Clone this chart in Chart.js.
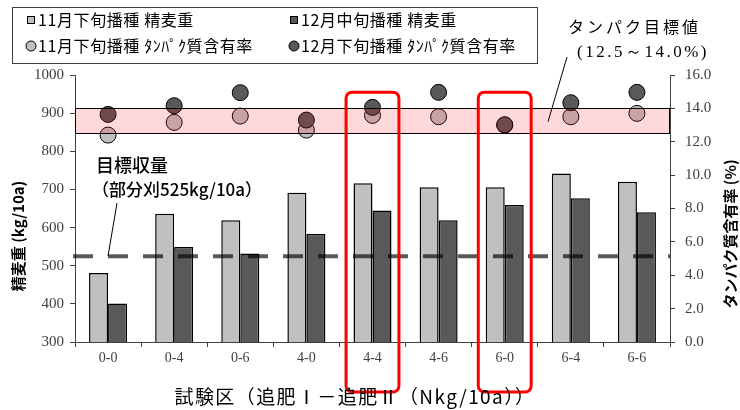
<!DOCTYPE html>
<html><head><meta charset="utf-8">
<script src="https://cdn.jsdelivr.net/npm/chart.js@4"></script>
<style>html,body{margin:0;padding:0;background:#fff;}canvas{display:block}</style>
</head><body>
<canvas id="c" width="740" height="410"></canvas>
<script>
// ---- data ----
const categories = ['0-0','0-4','0-6','4-0','4-4','4-6','6-0','6-4','6-6'];
const yieldNov = [481, 636, 619, 691, 716, 706, 706, 742, 720];
const yieldDec = [401, 549, 532, 583, 645, 619, 659, 677, 640];
const proteinNov = [12.4, 13.16, 13.54, 12.7, 13.58, 13.5, 13.0, 13.5, 13.7];
const proteinDec = [13.64, 14.16, 14.94, 13.3, 14.06, 14.96, 13.02, 14.34, 14.96];
const yieldAxis = [300, 1000, 100];
const proteinAxis = [0, 16, 2];
const targetYield = 525;
const proteinBand = [12.5, 14.0];
const highlighted = ['4-4', '6-0'];
const seriesLabels = ['11月下旬播種 精麦重', '12月中旬播種 精麦重', '11月下旬播種 ﾀﾝﾊﾟｸ質含有率', '12月下旬播種 ﾀﾝﾊﾟｸ質含有率'];
const leftTitle = '精麦重 (kg/10a)';
const rightTitle = 'タンパク質含有率 (%)';
const xTitle = '試験区（追肥Ⅰ－追肥Ⅱ（Nkg/10a））';
const bandNote = ['タンパク目標値', '(12.5～14.0%)'];
const yieldNote = ['目標収量', '（部分刈525kg/10a）'];

const LIGHT = '#c0c0c0', DARK = '#595959';
const JP = '"Noto Sans CJK JP", sans-serif';
const SERIF = '"Liberation Serif", serif';

const overlay = {
  id: 'overlay',
  afterDatasetsDraw(chart) {
    const {ctx, chartArea: a, scales} = chart;
    const y = scales.y, y1 = scales.y1, x = scales.x;
    ctx.save();
    // target yield dashed line
    const ty = y.getPixelForValue(targetYield);
    ctx.beginPath();
    ctx.setLineDash([20, 15]);
    ctx.lineWidth = 4;
    ctx.strokeStyle = 'rgba(0,0,0,0.65)';
    ctx.moveTo(a.left - 2, ty); ctx.lineTo(a.right, ty);
    ctx.stroke();
    ctx.setLineDash([]);
    // protein band
    const bt = y1.getPixelForValue(proteinBand[1]), bb = y1.getPixelForValue(proteinBand[0]);
    ctx.fillStyle = 'rgba(255,0,0,0.15)';
    ctx.fillRect(a.left, bt, a.right - a.left, bb - bt);
    ctx.lineWidth = 1; ctx.strokeStyle = '#000';
    ctx.strokeRect(a.left + 0.5, Math.round(bt) + 0.5, a.right - a.left - 1, Math.round(bb - bt));
    // highlight boxes
    const cw = (a.right - a.left) / categories.length;
    ctx.strokeStyle = '#ff0000'; ctx.lineWidth = 3;
    highlighted.forEach(h => {
      const cx = x.getPixelForValue(categories.indexOf(h));
      const top = y.getPixelForValue(955);
      ctx.beginPath();
      ctx.roundRect(cx - cw * 0.4, top, cw * 0.8, a.bottom + 50 - top, 6);
      ctx.stroke();
    });
    ctx.restore();
  },
  afterDraw(chart) {
    const {ctx, chartArea: a, scales} = chart;
    const y = scales.y, y1 = scales.y1;
    ctx.save();
    // legend
    ctx.strokeStyle = '#404040'; ctx.lineWidth = 1;
    ctx.strokeRect(12.5, 7.5, 525, 56);
    ctx.font = '16px ' + JP; ctx.fillStyle = '#000'; ctx.textBaseline = 'middle'; ctx.textAlign = 'left';
    ctx.letterSpacing = '0.6px';
    const pos = [[27, 20], [290, 20], [27, 46], [290, 46]];
    const cols = [LIGHT, DARK, LIGHT, DARK];
    seriesLabels.forEach((t, i) => {
      const [px, py] = pos[i];
      ctx.fillStyle = cols[i]; ctx.strokeStyle = '#000'; ctx.lineWidth = 1;
      if (i < 2) { ctx.fillRect(px, py - 4, 8, 8); ctx.strokeRect(px + 0.5, py - 3.5, 7, 7); }
      else { ctx.beginPath(); ctx.arc(px + 4, py, 5, 0, Math.PI * 2); ctx.fill(); ctx.stroke(); }
      ctx.fillStyle = '#000';
      ctx.fillText(t, px + 11, py);
    });
    // band annotation
    ctx.font = '16px ' + JP; ctx.letterSpacing = '3px';
    ctx.fillText(bandNote[0], 568, 27);
    ctx.font = '17px ' + SERIF; ctx.letterSpacing = '2.5px';
    ctx.fillText(bandNote[1], 577, 53);
    ctx.letterSpacing = '0px';
    ctx.beginPath(); ctx.lineWidth = 1; ctx.strokeStyle = '#000';
    ctx.moveTo(567, 57); ctx.lineTo(548, y1.getPixelForValue(13.2)); ctx.stroke();
    // yield annotation
    ctx.font = '500 18px ' + JP;
    ctx.fillText(yieldNote[0], 96, 165);
    ctx.font = '500 17px ' + JP;
    ctx.fillText(yieldNote[1], 92, 190);
    ctx.beginPath();
    ctx.moveTo(117, 203); ctx.lineTo(108, y.getPixelForValue(targetYield)); ctx.stroke();
    // axis titles
    ctx.font = 'bold 15px ' + JP; ctx.textAlign = 'center';
    ctx.save(); ctx.translate(18, 236); ctx.rotate(-Math.PI / 2); ctx.fillText(leftTitle, 0, 0); ctx.restore();
    ctx.save(); ctx.translate(730, 234); ctx.rotate(-Math.PI / 2); ctx.fillText(rightTitle, 0, 0); ctx.restore();
    ctx.font = '19px ' + JP; ctx.letterSpacing = '1.4px'; ctx.textAlign = 'left';
    const w = ctx.measureText(xTitle).width;
    ctx.fillText(xTitle, 355 - w / 2, 397);
    ctx.restore();
  }
};

const tickFont = {family: SERIF, size: 15};
new Chart(document.getElementById('c'), {
  type: 'bar',
  data: {
    labels: categories,
    datasets: [
      {type: 'line', label: seriesLabels[3], data: proteinDec, yAxisID: 'y1', showLine: false, order: 0,
       pointRadius: 8, pointHoverRadius: 8, pointBackgroundColor: DARK, pointBorderColor: '#000', pointBorderWidth: 1},
      {type: 'line', label: seriesLabels[2], data: proteinNov, yAxisID: 'y1', showLine: false, order: 1,
       pointRadius: 8, pointHoverRadius: 8, pointBackgroundColor: LIGHT, pointBorderColor: '#000', pointBorderWidth: 1},
      {label: seriesLabels[0], data: yieldNov, yAxisID: 'y', backgroundColor: LIGHT, borderColor: '#000', borderWidth: 1.5, order: 2,
       barPercentage: 1, categoryPercentage: 0.575},
      {label: seriesLabels[1], data: yieldDec, yAxisID: 'y', backgroundColor: DARK, borderColor: '#000', borderWidth: 1.5, order: 3,
       barPercentage: 1, categoryPercentage: 0.575}
    ]
  },
  options: {
    responsive: false, animation: false, devicePixelRatio: 1,
    layout: {padding: {top: 75, left: 0, right: 0, bottom: 0}},
    plugins: {legend: {display: false}, tooltip: {enabled: false}},
    scales: {
      x: {
        offset: true,
        grid: {drawOnChartArea: false, drawTicks: true, tickLength: 5, color: '#404040', offset: true},
        border: {display: true, color: '#404040'},
        ticks: {font: {family: SERIF, size: 14}, color: '#404040', padding: 3},
        afterFit(s) { s.height = 68; }
      },
      y: {
        position: 'left', min: yieldAxis[0], max: yieldAxis[1],
        ticks: {stepSize: yieldAxis[2], font: tickFont, color: '#404040', padding: 6, callback: v => String(v)},
        grid: {drawOnChartArea: false, tickLength: 5, color: '#404040'},
        border: {display: true, color: '#404040'},
        afterFit(s) { s.width = 75; }
      },
      y1: {
        position: 'right', min: proteinAxis[0], max: proteinAxis[1],
        ticks: {stepSize: proteinAxis[2], font: tickFont, color: '#404040', padding: 10, callback: v => v.toFixed(1)},
        grid: {drawOnChartArea: false, tickLength: 5, color: '#404040'},
        border: {display: true, color: '#404040'},
        afterFit(s) { s.width = 70; }
      }
    }
  },
  plugins: [overlay]
});
</script>
</body></html>
